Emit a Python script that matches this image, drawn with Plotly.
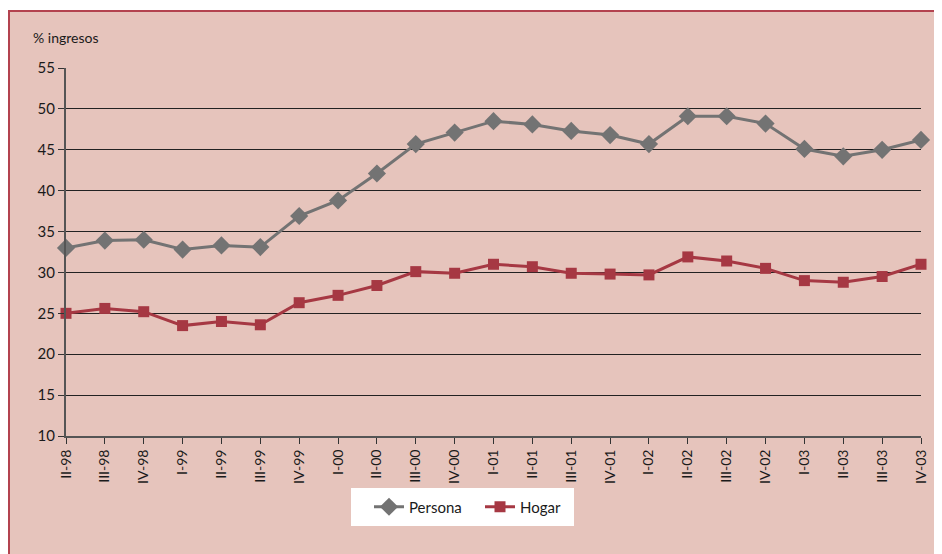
import plotly.graph_objects as go

categories = ["II-98", "III-98", "IV-98", "I-99", "II-99", "III-99", "IV-99",
              "I-00", "II-00", "III-00", "IV-00", "I-01", "II-01", "III-01",
              "IV-01", "I-02", "II-02", "III-02", "IV-02", "I-03", "II-03",
              "III-03", "IV-03"]
persona = [33.0, 33.9, 34.0, 32.8, 33.3, 33.1, 36.9, 38.8, 42.1, 45.7, 47.1,
           48.5, 48.1, 47.3, 46.8, 45.7, 49.1, 49.1, 48.2, 45.1, 44.2, 45.0, 46.2]
hogar = [25.0, 25.6, 25.2, 23.5, 24.0, 23.6, 26.3, 27.2, 28.4, 30.1, 29.9,
         31.0, 30.7, 29.9, 29.8, 29.7, 31.9, 31.4, 30.5, 29.0, 28.8, 29.5, 31.0]
y_ticks = [10, 15, 20, 25, 30, 35, 40, 45, 50, 55]

FONT = "Lato"
GRAY = "#737373"
RED = "#A63843"

fig = go.Figure()
fig.add_trace(go.Scatter(
    x=categories, y=persona, name="Persona", mode="lines+markers",
    line=dict(color=GRAY, width=3),
    marker=dict(symbol="diamond", size=14, color=GRAY),
    cliponaxis=False))
fig.add_trace(go.Scatter(
    x=categories, y=hogar, name="Hogar", mode="lines+markers",
    line=dict(color=RED, width=3),
    marker=dict(symbol="square", size=11, color=RED),
    cliponaxis=False))

# page is shown with an 8px body margin
OFF = 8
W, H = 942, 554
L = 66 - OFF
T = 68 - OFF
R = W - (921 - OFF)
B = H - (436 - OFF)
pw, ph = W - L - R, H - T - B

def px_x(p):
    return (p - OFF - L) / pw

def px_y(p):
    return (H - B - (p - OFF)) / ph

fig.add_shape(type="rect", xref="paper", yref="paper",
              x0=px_x(9), x1=px_x(990), y0=px_y(600), y1=px_y(11),
              fillcolor="#E6C4BC", line=dict(color="#B3434F", width=2),
              layer="below")
fig.add_shape(type="rect", xref="paper", yref="paper",
              x0=px_x(351), x1=px_x(574), y0=px_y(526), y1=px_y(488),
              fillcolor="white", line=dict(width=0), layer="below")

fig.add_annotation(text="% ingresos", xref="paper", yref="paper",
                   x=px_x(31), y=px_y(38), xanchor="left", yanchor="middle",
                   showarrow=False, font=dict(family=FONT, size=14, color="#1a1a1a"))

fig.update_layout(
    width=W, height=H,
    margin=dict(l=L, r=R, t=T, b=B),
    paper_bgcolor="white",
    plot_bgcolor="rgba(0,0,0,0)",
    font=dict(family=FONT, size=14, color="#1a1a1a"),
    showlegend=True,
    legend=dict(orientation="h", xanchor="left", yanchor="middle",
                x=px_x(369), y=px_y(507), bgcolor="rgba(0,0,0,0)",
                font=dict(family=FONT, size=15, color="#1a1a1a"),
                entrywidth=66, entrywidthmode="pixels", borderwidth=0),
    xaxis=dict(type="category", range=[0, len(categories) - 1],
               tickangle=-90, showgrid=False, showline=True,
               linecolor="#555555", linewidth=2, ticks="outside",
               ticklen=6, tickcolor="#333333",
               tickfont=dict(family=FONT, size=14, color="#1a1a1a")),
    yaxis=dict(range=[10, 55], tickvals=y_ticks, showgrid=True,
               gridcolor="#222222", gridwidth=1, showline=True,
               linecolor="#555555", linewidth=2, ticks="outside",
               ticklen=6, tickcolor="#333333", zeroline=False,
               tickfont=dict(family=FONT, size=15, color="#1a1a1a")),
)

fig.write_html("out.html")
